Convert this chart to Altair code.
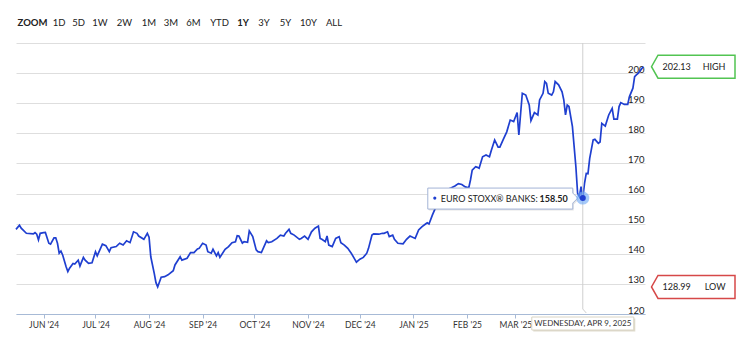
import altair as alt
import pandas as pd

# ---------------- data ----------------
dates = [
    "2024-05-16", "2024-05-18", "2024-05-19", "2024-05-22", "2024-05-26", "2024-05-27", "2024-05-28", "2024-05-29", "2024-05-30",
    "2024-06-01", "2024-06-02", "2024-06-04", "2024-06-05", "2024-06-07", "2024-06-08", "2024-06-09", "2024-06-10", "2024-06-11",
    "2024-06-12", "2024-06-14", "2024-06-15", "2024-06-16", "2024-06-18", "2024-06-19", "2024-06-21", "2024-06-22", "2024-06-24",
    "2024-06-25", "2024-06-27", "2024-06-29",
    "2024-07-01", "2024-07-02", "2024-07-05", "2024-07-07", "2024-07-09", "2024-07-10", "2024-07-13", "2024-07-15", "2024-07-17",
    "2024-07-19", "2024-07-21", "2024-07-23", "2024-07-25", "2024-07-26", "2024-07-29", "2024-07-31",
    "2024-08-01", "2024-08-02", "2024-08-04", "2024-08-05", "2024-08-06", "2024-08-08", "2024-08-10", "2024-08-12", "2024-08-15",
    "2024-08-16", "2024-08-19", "2024-08-20", "2024-08-23", "2024-08-25", "2024-08-27", "2024-08-29", "2024-08-30",
    "2024-09-01", "2024-09-03", "2024-09-04", "2024-09-06", "2024-09-07", "2024-09-09", "2024-09-10", "2024-09-11", "2024-09-14",
    "2024-09-16", "2024-09-18", "2024-09-20", "2024-09-21", "2024-09-22", "2024-09-24", "2024-09-25", "2024-09-27", "2024-09-28",
    "2024-09-30",
    "2024-10-02", "2024-10-03", "2024-10-05", "2024-10-08", "2024-10-09", "2024-10-11", "2024-10-14", "2024-10-16", "2024-10-18",
    "2024-10-19", "2024-10-21", "2024-10-22", "2024-10-24", "2024-10-27", "2024-10-28", "2024-10-30",
    "2024-11-01", "2024-11-03", "2024-11-05", "2024-11-07", "2024-11-08", "2024-11-09", "2024-11-11", "2024-11-12", "2024-11-13",
    "2024-11-15", "2024-11-17", "2024-11-19", "2024-11-20", "2024-11-22", "2024-11-24", "2024-11-26", "2024-11-28", "2024-11-29",
    "2024-12-01", "2024-12-03", "2024-12-05", "2024-12-06", "2024-12-08", "2024-12-09", "2024-12-12", "2024-12-14", "2024-12-15",
    "2024-12-17", "2024-12-18", "2024-12-20", "2024-12-21", "2024-12-23", "2024-12-26", "2024-12-28", "2024-12-30",
    "2025-01-02", "2025-01-04", "2025-01-06", "2025-01-08", "2025-01-09", "2025-01-10", "2025-01-12", "2025-01-14", "2025-01-16",
    "2025-01-20", "2025-01-23", "2025-01-25", "2025-01-27", "2025-01-29", "2025-01-31",
    "2025-02-02", "2025-02-03", "2025-02-04", "2025-02-06", "2025-02-07", "2025-02-08", "2025-02-10", "2025-02-12", "2025-02-14",
    "2025-02-15", "2025-02-17", "2025-02-19", "2025-02-20", "2025-02-22", "2025-02-24", "2025-02-26", "2025-02-27", "2025-02-28",
    "2025-03-02", "2025-03-03", "2025-03-05", "2025-03-07", "2025-03-09", "2025-03-10", "2025-03-12", "2025-03-14", "2025-03-15",
    "2025-03-17", "2025-03-18", "2025-03-19", "2025-03-20", "2025-03-22", "2025-03-23", "2025-03-24", "2025-03-26", "2025-03-28",
    "2025-03-29", "2025-03-30", "2025-03-31",
    "2025-04-01", "2025-04-03", "2025-04-05", "2025-04-06", "2025-04-07", "2025-04-08", "2025-04-09", "2025-04-10", "2025-04-11",
    "2025-04-12", "2025-04-13", "2025-04-15", "2025-04-16", "2025-04-18", "2025-04-19", "2025-04-20", "2025-04-22", "2025-04-24",
    "2025-04-26", "2025-04-27", "2025-04-29", "2025-04-30",
    "2025-05-01", "2025-05-03", "2025-05-05", "2025-05-06", "2025-05-08", "2025-05-09", "2025-05-10", "2025-05-11", "2025-05-13",
    "2025-05-14",
]

values = [
    148.1, 149.5, 148.5, 146.8, 146.6, 147.0, 146.5, 144.6, 146.8,
    147.0, 147.1, 143.5, 143.2, 145.3, 145.3, 143.5, 140.2, 140.9,
    139.6, 135.7, 134.1, 135.2, 136.8, 136.6, 137.9, 135.9, 138.8,
    137.9, 136.8, 137.0,
    140.7, 139.3, 143.2, 142.7, 140.7, 142.0, 142.4, 143.5, 142.9,
    144.3, 143.7, 147.3, 146.8, 145.9, 144.8, 146.8,
    145.5, 139.0, 133.5, 130.4, 128.99, 132.2, 132.4, 133.0, 134.4,
    136.3, 139.0, 137.9, 138.5, 140.4, 140.4, 141.6, 141.8,
    143.5, 142.9, 140.7, 140.2, 141.5, 139.3, 140.4, 138.8, 141.5,
    142.4, 143.7, 144.0, 146.0, 145.9, 143.5, 144.0, 143.8, 147.6,
    145.7,
    141.3, 140.7, 140.4, 144.3, 143.7, 144.0, 145.1, 146.2, 145.9,
    146.8, 148.1, 146.8, 146.2, 144.8, 145.1, 145.9,
    144.8, 147.3, 148.5, 149.2, 145.1, 144.8, 144.0, 145.9, 142.9,
    142.4, 145.1, 145.7, 143.7, 142.9, 141.8, 140.2, 138.2, 137.2,
    138.2, 138.8, 140.2, 141.8, 146.2, 146.6, 146.5, 146.8, 146.8,
    147.3, 145.7, 146.2, 144.8, 143.5, 143.3, 144.8, 145.9,
    145.1, 147.9, 149.0, 149.9, 150.3, 149.9, 152.9, 155.6, 157.3,
    161.2, 161.9, 162.5, 163.3, 163.0, 162.2,
    161.9, 164.5, 167.8, 168.9, 168.7, 168.4, 172.2, 172.8, 172.2,
    174.2, 177.8, 175.4, 175.4, 178.0, 180.5, 184.4, 184.2, 183.9,
    186.9, 179.5, 193.3, 192.7, 189.4, 184.2, 186.9, 186.1, 191.1,
    193.3, 197.2, 196.6, 193.3, 192.7, 193.8, 197.2, 196.1, 193.8,
    191.1, 186.1, 189.4,
    188.9, 182.2, 168.9, 160.1, 159.0, 162.3, 158.5, 163.4, 166.7,
    166.6, 171.7, 177.8, 178.0, 176.7, 177.1, 183.3, 182.4, 186.1,
    188.3, 184.7, 184.7, 188.9,
    190.2, 189.6, 189.6, 192.2, 195.0, 198.8, 199.4, 199.9, 201.4,
    202.13,
]

SERIES_NAME = "EURO STOXX\u00ae BANKS:"
SEL_DATE = "2025-04-09"
SEL_VALUE = 158.50
HIGH_VALUE = 202.13
LOW_VALUE = 128.99

X_START, X_END = "2024-05-16", "2025-05-15"
month_ticks = ["2024-06-01", "2024-07-01", "2024-08-01", "2024-09-01", "2024-10-01",
               "2024-11-01", "2024-12-01", "2025-01-01", "2025-02-01", "2025-03-01"]
y_ticks = [120, 130, 140, 150, 160, 170, 180, 190, 200, 210]
Y_MIN, Y_MAX = 120, 210

range_labels = ["ZOOM", "1D", "5D", "1W", "2W", "1M", "3M", "6M", "YTD", "1Y", "3Y", "5Y", "10Y", "ALL"]
range_bold = ["ZOOM", "1Y"]

# ---------------- layout / style ----------------
W, H = 629, 271
PAD = {"left": 16, "top": 43, "right": 99, "bottom": 37}
range_centers = [32.5, 59, 78.5, 100, 124.5, 149, 171, 193.5, 219.5, 243, 264, 285.5, 308.5, 334]
LINE_BLUE = "#1f3fd0"
FONT = "Lato"
TXT = "#222222"


def dt(s):
    t = pd.Timestamp(s)
    return alt.DateTime(year=t.year, month=t.month, date=t.day)


df = pd.DataFrame({"date": pd.to_datetime(dates), "value": values})

x_scale = alt.Scale(domain=[dt(X_START), dt(X_END)], nice=False)
y_scale = alt.Scale(domain=[Y_MIN, Y_MAX], nice=False, zero=False)

x_axis = alt.Axis(
    values=[dt(m) for m in month_ticks],
    labelExpr="upper(timeFormat(datum.value, \"%b '%y\"))",
    grid=False, domainColor="#a7bad6", tickColor="#a7bad6", tickSize=4,
    labelFont=FONT, labelFontSize=8.5, labelColor="#333333", labelPadding=2,
    labelFlush=False, labelOverlap=False, title=None,
)
y_axis = alt.Axis(
    orient="right", values=y_ticks,
    labelExpr="datum.value >= 210 ? '' : datum.label",
    grid=True, gridColor="#dedede", gridWidth=1,
    domain=False, ticks=False, tickSize=0,
    labelAlign="right", labelPadding=-1, labelBaseline="alphabetic", labelOffset=-1,
    labelOverlap=False, labelFlush=False, tickCount=10,
    labelFont=FONT, labelFontSize=9.5, labelColor=TXT, title=None,
)


def X(field="date:T"):
    return alt.X(field, scale=x_scale, axis=x_axis)


def Y(field="value:Q"):
    return alt.Y(field, scale=y_scale, axis=y_axis)


def XD(value):
    return alt.XDatum(value, type="temporal", scale=x_scale, axis=x_axis)


def YD(value):
    return alt.YDatum(value, type="quantitative", scale=y_scale, axis=y_axis)


line = alt.Chart(df).mark_line(color=LINE_BLUE, strokeWidth=1.7).encode(x=X(), y=Y())

sel_ts = pd.Timestamp(SEL_DATE)
sel_df = pd.DataFrame({
    "date": [sel_ts],
    "value": [SEL_VALUE],
    "label": [SERIES_NAME],
    "vtext": [f"{SEL_VALUE:.2f}"],
    "dtext": [sel_ts.strftime("%A, %b ") + str(sel_ts.day) + sel_ts.strftime(", %Y")],
})
sel_df["dtext"] = sel_df["dtext"].str.upper()

sel = alt.Chart(sel_df)
crosshair = sel.mark_rule(color="#cfcfcf", strokeWidth=1).encode(
    x=X(), y=alt.value(0), y2=alt.value(H - 5))
connector = sel.mark_rule(color="#cfcfcf", strokeWidth=1, x2Offset=3.5).encode(
    x=X(), x2=alt.X2("date:T"), y=alt.value(H - 5), y2=alt.value(H - 1))

TIP_PATH = "M -155 -10 L -10 -10 L -10 -5 L -5 0 L -10 5 L -10 11 L -155 11 Z"
tip_shadow = sel.mark_point(shape=TIP_PATH, size=4, filled=True, color="#000000",
                            opacity=0.10, xOffset=1, yOffset=1.5).encode(x=X(), y=Y())
tip_box = sel.mark_point(shape=TIP_PATH, size=4, filled=True, fill="white", stroke="#a3b4d6",
                         strokeWidth=1, opacity=1).encode(x=X(), y=Y())
tip_dot = sel.mark_point(shape="circle", size=10, filled=True, color=LINE_BLUE, opacity=1,
                         xOffset=-148).encode(x=X(), y=Y())
tip_label = sel.mark_text(align="left", baseline="middle", dx=-142, dy=0.5, font=FONT, fontSize=9,
                          color=TXT).encode(x=X(), y=Y(), text="label:N")
tip_value = sel.mark_text(align="right", baseline="middle", dx=-15, dy=0.5, font=FONT, fontSize=9,
                          fontWeight="bold", color=TXT).encode(x=X(), y=Y(), text="vtext:N")

halo = sel.mark_point(shape="circle", size=170, filled=True, color="#6aa6f5", opacity=0.6).encode(
    x=X(), y=Y())
dot = sel.mark_point(shape="circle", size=36, filled=True, color=LINE_BLUE, opacity=1).encode(
    x=X(), y=Y())

DATE_PATH = "M -51 3 L 51 3 L 51 16 L -51 16 Z"
date_shadow = sel.mark_point(shape=DATE_PATH, size=4, filled=True, color="#b9b08e", opacity=0.45,
                             xOffset=1.5, yOffset=1.5).encode(x=X(), y=YD(Y_MIN))
date_box = sel.mark_point(shape=DATE_PATH, size=4, filled=True, fill="white", stroke="#d9d4c4",
                          strokeWidth=1, opacity=1).encode(x=X(), y=YD(Y_MIN))
date_text = sel.mark_text(align="center", baseline="middle", dy=9.7, font=FONT, fontSize=8,
                          color="#333333").encode(x=X(), y=YD(Y_MIN), text="dtext:N")

HL_PATH = "M 13 -11.5 L 90 -11.5 L 90 11.5 L 13 11.5 L 6.5 0 Z"
hl_layers = []
for kind, val, col in [("HIGH", HIGH_VALUE, "#52c452"), ("LOW", LOW_VALUE, "#d64848")]:
    hdf = pd.DataFrame({"kind": [kind], "value": [val], "vtext": [f"{val:.2f}"]})
    hc = alt.Chart(hdf)
    hl_layers.append(hc.mark_point(shape=HL_PATH, size=4, filled=True, fill="white", stroke=col,
                                   strokeWidth=1.5, opacity=1).encode(x=XD(dt(X_END)), y=Y()))
    hl_layers.append(hc.mark_text(align="left", baseline="middle", dx=17.5, dy=0.5, font=FONT,
                                  fontSize=9, color=TXT).encode(x=XD(dt(X_END)), y=Y(), text="vtext:N"))
    hl_layers.append(hc.mark_text(align="right", baseline="middle", dx=80.5, dy=0.5, font=FONT,
                                  fontSize=9, color=TXT).encode(x=XD(dt(X_END)), y=Y(), text="kind:N"))

range_layers = []
for lab, cx in zip(range_labels, range_centers):
    rdf = pd.DataFrame({"t": [lab]})
    range_layers.append(
        alt.Chart(rdf).mark_text(align="center", baseline="middle", font=FONT, fontSize=9.5,
                                 fontWeight="bold" if lab in range_bold else "normal", color=TXT)
        .encode(x=alt.value(cx - PAD["left"]), y=alt.value(23 - PAD["top"]), text="t:N")
    )

chart = alt.layer(
    line, crosshair, connector,
    tip_shadow, tip_box, tip_dot, tip_label, tip_value,
    halo, dot,
    date_shadow, date_box, date_text,
    *hl_layers, *range_layers,
).properties(
    width=W, height=H,
    autosize=alt.AutoSizeParams(type="none"),
    padding=PAD,
    background="white",
).configure_view(stroke=None)

chart.save("out.html", embed_options={"renderer": "svg", "actions": False})
